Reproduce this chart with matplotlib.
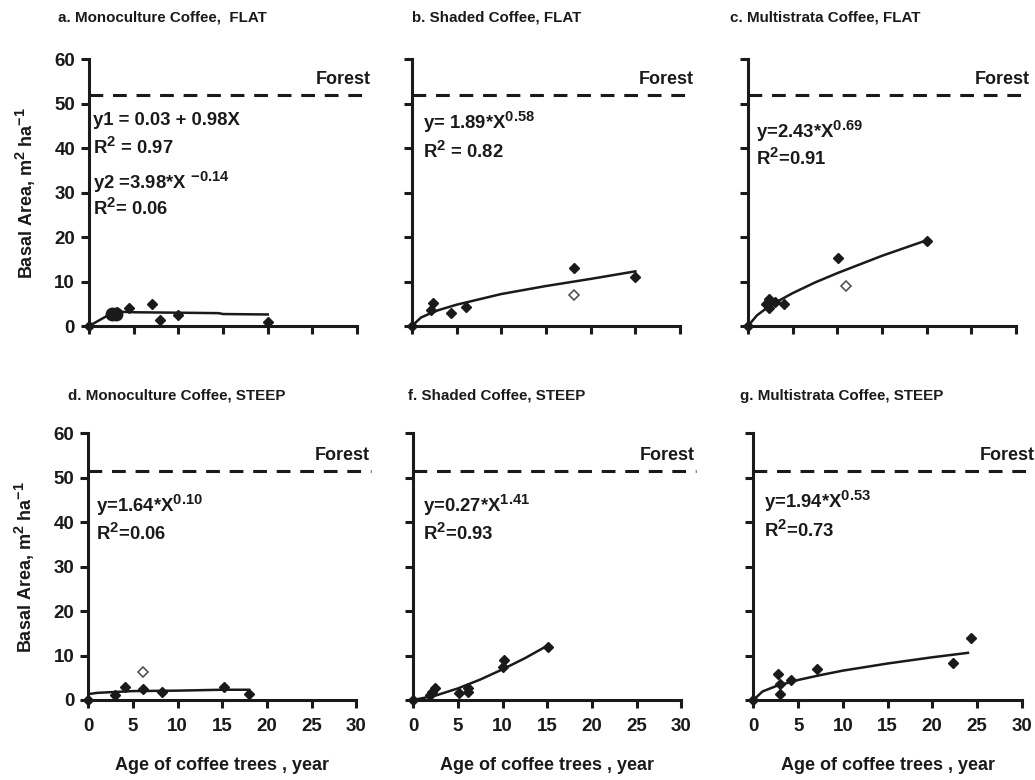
import matplotlib
matplotlib.use("Agg")
import matplotlib.pyplot as plt
try:
    import matplotlib._mathtext as _mt
    _mt.SHRINK_FACTOR = 0.8
except Exception:
    pass

FONT = "Liberation Sans"
plt.rcParams['font.family'] = [FONT, 'DejaVu Sans']
plt.rcParams['font.weight'] = 'bold'
plt.rcParams['mathtext.fontset'] = 'custom'
plt.rcParams['mathtext.rm'] = FONT + ':bold'
plt.rcParams['mathtext.bf'] = FONT + ':bold'
plt.rcParams['mathtext.it'] = FONT + ':bold'
plt.rcParams['mathtext.sf'] = FONT + ':bold'
plt.rcParams['mathtext.default'] = 'bf'

INK = '#1a1a1a'

# ---------------- data ----------------
titles = ["a. Monoculture Coffee,  FLAT", "b. Shaded Coffee, FLAT", "c. Multistrata Coffee, FLAT",
          "d. Monoculture Coffee, STEEP", "f. Shaded Coffee, STEEP", "g. Multistrata Coffee, STEEP"]

forest_flat = 52.0
forest_steep = 51.5

# filled points
a_x = [0, 2.5, 2.8, 3.1, 4.5, 7.0, 8.0, 10.0, 20.0]
a_y = [0, 3.0, 2.6, 3.1, 4.0, 4.9, 1.3, 2.5, 1.0]
b_x = [0, 2.1, 2.4, 4.4, 6.0, 18.1, 25.0]
b_y = [0, 3.7, 5.2, 3.0, 4.3, 13.1, 11.0]
c_x = [0, 2.0, 2.4, 2.4, 3.0, 4.0, 10.1, 20.0]
c_y = [0, 5.0, 6.0, 4.0, 5.5, 5.0, 15.4, 19.2]
d_x = [0, 3.0, 4.1, 6.1, 8.2, 15.2, 18.0]
d_y = [0, 1.1, 3.0, 2.4, 1.9, 3.0, 1.3]
f_x = [0, 1.9, 2.1, 2.4, 5.1, 6.1, 6.1, 10.1, 10.0, 15.1]
f_y = [0, 1.1, 1.9, 2.6, 1.5, 2.6, 1.9, 9.0, 7.5, 12.0]
g_x = [0, 2.7, 3.0, 3.0, 4.2, 7.1, 22.3, 24.3]
g_y = [0, 5.9, 3.5, 1.3, 4.4, 7.0, 8.3, 14.0]

# open points
b_open_x, b_open_y = [18.1], [6.9]
c_open_x, c_open_y = [11.0], [8.9]
d_open_x, d_open_y = [6.1], [6.4]

# fitted curves
a_fit1_x = [0, 2.3]
a_fit1_y = [0, 2.6]
a_fit2_x = [2.5, 5, 10, 14.5, 15, 20]
a_fit2_y = [3.3, 3.1, 3.0, 2.9, 2.7, 2.6]
b_fit_x = [0, 1, 2, 3, 5, 7.5, 10, 15, 20, 25]
b_fit_y = [0, 1.9, 2.8, 3.6, 4.8, 6.0, 7.2, 9.0, 10.6, 12.3]
c_fit_x = [0, 1, 2, 3, 5, 7.5, 10, 15, 20]
c_fit_y = [0, 2.4, 3.9, 5.2, 7.4, 9.8, 11.9, 15.8, 19.3]
d_fit_x = [0.3, 1, 5, 10, 15, 18]
d_fit_y = [1.4, 1.6, 2.0, 2.1, 2.3, 2.3]
f_fit_x = [0, 2.5, 5, 7.5, 10, 12.5, 15]
f_fit_y = [0, 1.0, 2.6, 4.6, 6.9, 9.4, 12.2]
g_fit_x = [0, 1, 2.5, 5, 7.5, 10, 15, 20, 24]
g_fit_y = [0, 1.9, 3.1, 4.5, 5.6, 6.6, 8.2, 9.6, 10.6]

eqs = [
    ["y1 = 0.03 + 0.98X", "R$^{2}$ = 0.97", "y2 =3.98*X $^{-0.14}$", "R$^{2}$= 0.06"],
    ["y= 1.89*X$^{0.58}$", "R$^{2}$ = 0.82"],
    ["y=2.43*X$^{0.69}$", "R$^{2}$=0.91"],
    ["y=1.64*X$^{0.10}$", "R$^{2}$=0.06"],
    ["y=0.27*X$^{1.41}$", "R$^{2}$=0.93"],
    ["y=1.94*X$^{0.53}$", "R$^{2}$=0.73"],
]
eq_y = [[46.7, 40.3, 32.4, 26.5], [45.9, 39.3], [43.7, 37.7], [43.8, 37.5], [43.8, 37.5], [44.6, 38.2]]
eq_x = [0.5, 1.2, 0.9, 0.9, 1.1, 1.2]

xticks = [0, 5, 10, 15, 20, 25, 30]
yticks = [0, 10, 20, 30, 40, 50, 60]

EQ_SIZE = 13.3

# ---------------- layout ----------------
fig = plt.figure(figsize=(10.35, 7.8), dpi=100)

W = 0.259
H = 0.342
lefts_top = [0.086, 0.398, 0.7227]
lefts_bot = [0.0853, 0.3993, 0.728]
bot_top = 0.582
bot_bot = 0.1026
title_dx = [-0.116, 0.0, -0.067, -0.075, -0.02, -0.05]

axes = []
for i in range(6):
    if i < 3:
        ax = fig.add_axes([lefts_top[i], bot_top, W, H])
    else:
        ax = fig.add_axes([lefts_bot[i - 3], bot_bot, W, H])
    axes.append(ax)

pts = [(a_x, a_y), (b_x, b_y), (c_x, c_y), (d_x, d_y), (f_x, f_y), (g_x, g_y)]
opens = [None, (b_open_x, b_open_y), (c_open_x, c_open_y), (d_open_x, d_open_y), None, None]
fits = [[(a_fit1_x, a_fit1_y), (a_fit2_x, a_fit2_y)], [(b_fit_x, b_fit_y)], [(c_fit_x, c_fit_y)],
        [(d_fit_x, d_fit_y)], [(f_fit_x, f_fit_y)], [(g_fit_x, g_fit_y)]]

for i, ax in enumerate(axes):
    ax.set_xlim(0, 30)
    ax.set_ylim(0, 60)
    for s in ['top', 'right']:
        ax.spines[s].set_visible(False)
    for s in ['left', 'bottom']:
        ax.spines[s].set_linewidth(2.2)
        ax.spines[s].set_color(INK)
    ax.set_xticks(xticks)
    ax.set_yticks(yticks)
    ax.tick_params(direction='out', length=6, width=2.2, color=INK, labelsize=13.5,
                   labelcolor=INK)
    ax.tick_params(axis='x', pad=7)
    ax.tick_params(axis='y', pad=4)
    if i < 3:
        ax.set_xticklabels([])
    else:
        ax.set_xlabel("Age of coffee trees , year", fontsize=13, fontweight='bold', color=INK, labelpad=16)
    if i not in (0, 3):
        ax.set_yticklabels([])
    else:
        ax.set_ylabel("Basal Area, m$^{2}$ ha$^{-1}$", fontsize=13, fontweight='bold', color=INK, labelpad=12)

    forest = forest_flat if i < 3 else forest_steep
    ax.plot([0, 31.6], [forest, forest], ls=(0, (4.5, 3.2)), lw=2.2, color=INK, clip_on=False)
    ax.text(31.5, forest + 1.6, "Forest", ha='right', va='bottom', fontsize=13, fontweight='bold', color=INK)

    for fx, fy in fits[i]:
        ax.plot(fx, fy, color=INK, lw=1.8, clip_on=False)
    x, y = pts[i]
    ax.plot(x, y, ls='none', marker='D', ms=5.5, color=INK, clip_on=False, zorder=5)
    if opens[i] is not None:
        ox, oy = opens[i]
        ax.plot(ox, oy, ls='none', marker='D', ms=5.5, mfc='white', mec='#555555', mew=1.2, zorder=5)
    if i == 0:
        ax.plot([2.6, 3.0], [2.8, 2.7], ls='none', marker='o', ms=9, color=INK, zorder=5)

    for t, yy in zip(eqs[i], eq_y[i]):
        ax.text(eq_x[i], yy - 1.5, t, ha='left', va='baseline', fontsize=EQ_SIZE,
                fontweight='bold', color=INK)

    ty = 1.155 if i < 3 else 1.14
    ax.text(title_dx[i], ty, titles[i], transform=ax.transAxes, ha='left', va='center',
            fontsize=10.9, fontweight='bold', color=INK)

fig.savefig("out.png", dpi=100, facecolor='white')
